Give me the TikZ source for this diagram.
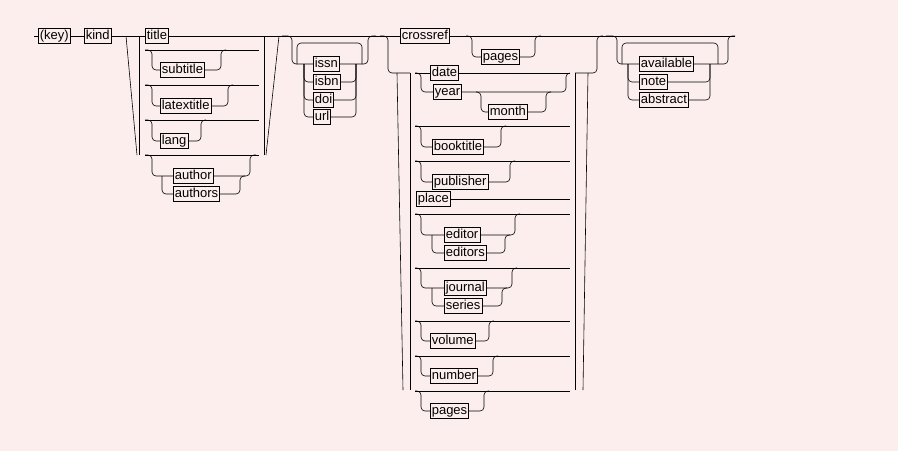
\documentclass[tikz,border=0pt]{standalone}
\usepackage{fontspec}
\setmainfont{Liberation Sans}
\definecolor{bgpink}{HTML}{FDEEEE}

\begin{document}
\begin{tikzpicture}[x=1pt,y=-1pt,line width=0.6pt,
	term/.style={draw=black,line width=0.6pt,anchor=west,inner xsep=1.5pt,inner ysep=0pt,
		text height=10pt,text depth=3pt,minimum height=15pt,font=\fontsize{13}{14}\selectfont},
	rail/.style={rounded corners=4pt}]
		\fill[bgpink] (0,0) rectangle (898,451);
		\useasboundingbox (0,0) rectangle (898,451);

		\node[term] (key) at (38,36){(key)};
		\node[term] (kind) at (84,36){kind};
		\node[term] (title) at (145,36){title};
		\node[term] (subtitle) at (160,70){subtitle};
		\node[term] (latextitle) at (160,106){latextitle};
		\node[term] (lang) at (160,141){lang};
		\node[term] (author) at (173,176){author};
		\node[term] (authors) at (173,194){authors};
		\node[term] (issn) at (313,64){issn};
		\node[term] (isbn) at (313,82){isbn};
		\node[term] (doi) at (313,100){doi};
		\node[term] (url) at (313,117){url};
		\node[term] (crossref) at (400,36){crossref};
		\node[term] (pagesA) at (481,57){pages};
		\node[term] (date) at (430,73){date};
		\node[term] (year) at (433,92){year};
		\node[term] (month) at (488,112){month};
		\node[term] (booktitle) at (432,147){booktitle};
		\node[term] (publisher) at (432,182){publisher};
		\node[term] (place) at (416,199){place};
		\node[term] (editor) at (444,235){editor};
		\node[term] (editors) at (444,253){editors};
		\node[term] (journal) at (444,288){journal};
		\node[term] (series) at (444,306){series};
		\node[term] (volume) at (430,341){volume};
		\node[term] (number) at (430,376){number};
		\node[term] (pagesB) at (430,411){pages};
		\node[term] (available) at (639,64){available};
		\node[term] (note) at (639,82){note};
		\node[term] (abstract) at (639,100){abstract};

		% main line
		\draw (34,36) -- (key.west);
		\draw (key.east) -- (kind.west);
		\draw (kind.east) -- (title.west);
		\draw (title.east) -- (crossref.west);
		\draw (crossref.east) -- (735,36);

		% first block
		\draw (126,36) -- (137,155);
		\draw (139,36) -- (139,155);
		\draw (264,36) -- (264,155);
		\draw (279,36) -- (266,155);
		\foreach \y in {50,85,120,155}
			\draw (145,\y) -- (259,\y);
		\draw[rail] (145,50) -- (152,50) |- (subtitle.west);
		\draw[rail] (subtitle.east) -| (221,50) -- (226,50);
		\draw[rail] (145,85) -- (152,85) |- (latextitle.west);
		\draw[rail] (latextitle.east) -| (228,85) -- (233,85);
		\draw[rail] (145,120) -- (152,120) |- (lang.west);
		\draw[rail] (lang.east) -| (201,120) -- (206,120);
		\draw[rail] (145,155) -- (152,155) |- (author.west);
		\draw[rail] (162,176) |- (authors.west);
		\draw[rail] (author.east) -| (250,155) -- (256,155);
		\draw[rail] (authors.east) -| (240,176) -- (245,176);

		% identifiers
		\draw[rail] (282,36) -| (292,64) -- (issn.west);
		\draw[rail] (297,64) |- (330,43) -| (362,64);
		\draw[rail] (issn.east) -| (368,36) -- (376,36);
		\draw[rail] (304,64) |- (isbn.west);
		\draw[rail] (304,64) |- (doi.west);
		\draw[rail] (304,64) |- (url.west);
		\draw[rail] (isbn.east) -| (356,64);
		\draw[rail] (doi.east) -| (356,64);
		\draw[rail] (url.east) -| (356,64);

		% crossref
		\draw[rail] (466,36) -- (472,36) |- (pagesA.west);
		\draw[rail] (pagesA.east) -| (535,36) -- (541,36);
		\draw[rail] (380,36) -- (388,36) |- (410,73);
		\draw[rail] (575,73) -| (597,36) -- (603,36);
		\draw (397,73) -- (403,390);
		\draw (410,73) -- (410,390);
		\draw (575,73) -- (575,390);
		\draw (588,73) -- (583,390);

		% fields
		\draw (415,73) -- (date.west);
		\draw (date.east) -- (570,73);
		\draw[rail] (415,73) -- (421,73) |- (year.west);
		\draw[rail] (year.east) -| (566,73) -- (570,73);
		\draw[rail] (476,92) -- (481,92) |- (month.west);
		\draw[rail] (month.east) -| (546,92) -- (551,92);
		\foreach \y in {126,161,214,268,321,356,391}
			\draw (415,\y) -- (570,\y);
		\draw[rail] (415,126) -- (421,126) |- (booktitle.west);
		\draw[rail] (booktitle.east) -| (501,126) -- (506,126);
		\draw[rail] (415,161) -- (421,161) |- (publisher.west);
		\draw[rail] (publisher.east) -| (510,161) -- (515,161);
		\draw (place.east) -- (570,199);
		\draw[rail] (415,214) -- (421,214) |- (editor.west);
		\draw[rail] (432,235) |- (editors.west);
		\draw[rail] (editor.east) -| (515,214) -- (520,214);
		\draw[rail] (editors.east) -| (505,235) -- (510,235);
		\draw[rail] (415,268) -- (421,268) |- (journal.west);
		\draw[rail] (432,288) |- (series.west);
		\draw[rail] (journal.east) -| (512,268) -- (517,268);
		\draw[rail] (series.east) -| (502,288) -- (507,288);
		\draw[rail] (415,321) -- (421,321) |- (volume.west);
		\draw[rail] (volume.east) -| (489,321) -- (494,321);
		\draw[rail] (415,356) -- (421,356) |- (number.west);
		\draw[rail] (number.east) -| (493,356) -- (498,356);
		\draw[rail] (415,391) -- (421,391) |- (pagesB.west);
		\draw[rail] (pagesB.east) -| (484,391) -- (489,391);

		% notes
		\draw[rail] (606,36) -| (617,64) -- (available.west);
		\draw[rail] (622,64) |- (670,43) -| (718,64);
		\draw[rail] (available.east) -| (728,36) -- (735,36);
		\draw[rail] (628,64) |- (note.west);
		\draw[rail] (628,64) |- (abstract.west);
		\draw[rail] (note.east) -| (710,64);
		\draw[rail] (abstract.east) -| (710,64);

	\end{tikzpicture}
\end{document}
